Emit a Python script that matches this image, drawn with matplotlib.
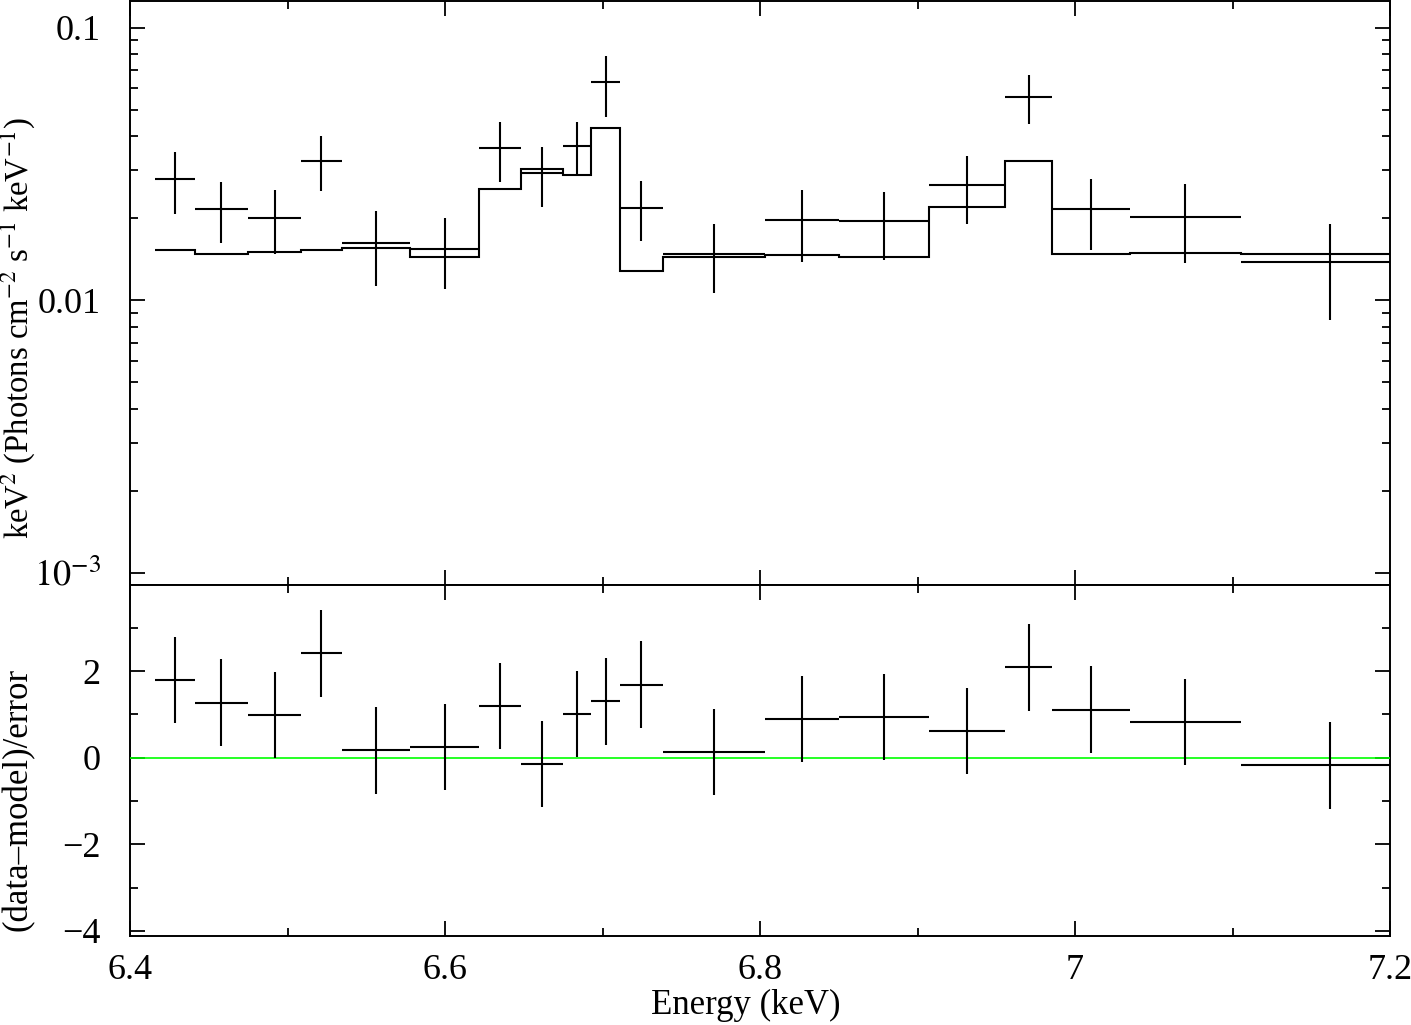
import matplotlib
matplotlib.use("Agg")
import matplotlib.pyplot as plt
from matplotlib.ticker import MultipleLocator, FixedLocator, LogLocator, NullFormatter, FuncFormatter
import numpy as np

plt.rcParams['font.family'] = ['Liberation Serif', 'DejaVu Serif']
plt.rcParams['mathtext.fontset'] = 'stix'
plt.rcParams['font.size'] = 25

# energy bin edges (keV)
edges = [6.4159, 6.4410, 6.4749, 6.5086, 6.5343, 6.5778, 6.6216, 6.6483, 6.6749,
         6.6929, 6.7111, 6.7384, 6.8032, 6.8502, 6.9073, 6.9558, 6.9854, 7.0349,
         7.1054, 7.2180]

# unfolded data: value, lower and upper bounds
flux = [0.02791, 0.02173, 0.02009, 0.03256, 0.01627, 0.01547, 0.03613, 0.02936,
        0.03697, 0.06325, 0.02186, 0.01486, 0.01968, 0.01952, 0.02644, 0.05574,
        0.02167, 0.02019, 0.01381]
flux_lo = [0.02083, 0.01627, 0.01486, 0.02529, 0.01128, 0.01097, 0.02721, 0.02204,
           0.02901, 0.04709, 0.01645, 0.01067, 0.01386, 0.01401, 0.01910, 0.04424,
           0.01537, 0.01369, 0.00847]
flux_hi = [0.03493, 0.02721, 0.02535, 0.03998, 0.02137, 0.02002, 0.04499, 0.03643,
           0.04514, 0.07895, 0.02735, 0.01915, 0.02551, 0.02493, 0.03377, 0.06709,
           0.02798, 0.02676, 0.01915]

# folded model
model = [0.01537, 0.01486, 0.01503, 0.01537, 0.01554, 0.01441, 0.02572, 0.03044,
         0.02894, 0.04291, 0.01280, 0.01445, 0.01465, 0.01445, 0.02204, 0.03237,
         0.01483, 0.01491, 0.01474]

# (data-model)/error
resid = [1.80, 1.27, 0.99, 2.41, 0.17, 0.25, 1.19, -0.15, 1.01, 1.30, 1.69, 0.13,
         0.89, 0.94, 0.62, 2.09, 1.11, 0.82, -0.18]

edges = np.array(edges)
centers = 0.5 * (edges[:-1] + edges[1:])
halfw = 0.5 * np.diff(edges)
flux = np.array(flux)
yerr = [flux - np.array(flux_lo), np.array(flux_hi) - flux]

W, H = 1411, 1025
fig = plt.figure(figsize=(W / 100, H / 100), dpi=100)
ax1 = fig.add_axes([130 / W, 1 - 585 / H, 1260 / W, 584 / H])
ax2 = fig.add_axes([130 / W, 1 - 936 / H, 1260 / W, 351 / H], sharex=ax1)

lw = 1.5
ax1.errorbar(centers, flux, xerr=halfw, yerr=yerr, fmt='none', ecolor='black', elinewidth=lw)
ax1.stairs(model, edges, baseline=None, color='black', linewidth=lw)
ax1.set_yscale('log')
ax1.set_ylim(0.000902, 0.1256)
ax1.set_xlim(6.4, 7.2)
ax1.yaxis.set_major_locator(FixedLocator([1e-3, 1e-2, 1e-1]))
ax1.yaxis.set_minor_locator(LogLocator(base=10, subs=np.arange(2, 10)))
ax1.yaxis.set_minor_formatter(NullFormatter())
ax1.set_yticklabels([r'$10^{-3}$', '0.01', '0.1'])

ax2.axhline(0, color='#00ff00', linewidth=1.2, zorder=3)
ax2.errorbar(centers, resid, xerr=halfw, yerr=1.0, fmt='none', ecolor='black', elinewidth=lw, zorder=4)
ax2.set_ylim(-4.12, 3.99)
ax2.yaxis.set_major_locator(MultipleLocator(2))
ax2.yaxis.set_minor_locator(MultipleLocator(1))
ax2.xaxis.set_major_locator(MultipleLocator(0.2))
ax2.xaxis.set_minor_locator(MultipleLocator(0.1))
ax2.xaxis.set_major_formatter(FuncFormatter(lambda v, p: '%g' % round(v, 2)))

for ax in (ax1, ax2):
    for s in ax.spines.values():
        s.set_linewidth(1.4)
    ax.tick_params(which='both', direction='in', top=True, right=True, width=1.3, labelsize=26)
    ax.tick_params(which='major', length=11)
    ax.tick_params(which='minor', length=5.5)
    ax.tick_params(axis='y', pad=21)
ax1.tick_params(axis='x', labelbottom=False)
ax2.tick_params(axis='x', pad=13)

fig.text(18 / W, 1 - 328 / H, r'keV$^2$ (Photons cm$^{-2}$ s$^{-1}$ keV$^{-1}$)',
         rotation=90, ha='center', va='center', fontsize=23.5)
fig.text(18 / W, 1 - 799 / H, '(data\u2013model)/error', rotation=90, ha='center', va='center')
fig.text(746 / W, 1 - 1005 / H, 'Energy (keV)', ha='center', va='center')

fig.savefig('out.png', dpi=100)
